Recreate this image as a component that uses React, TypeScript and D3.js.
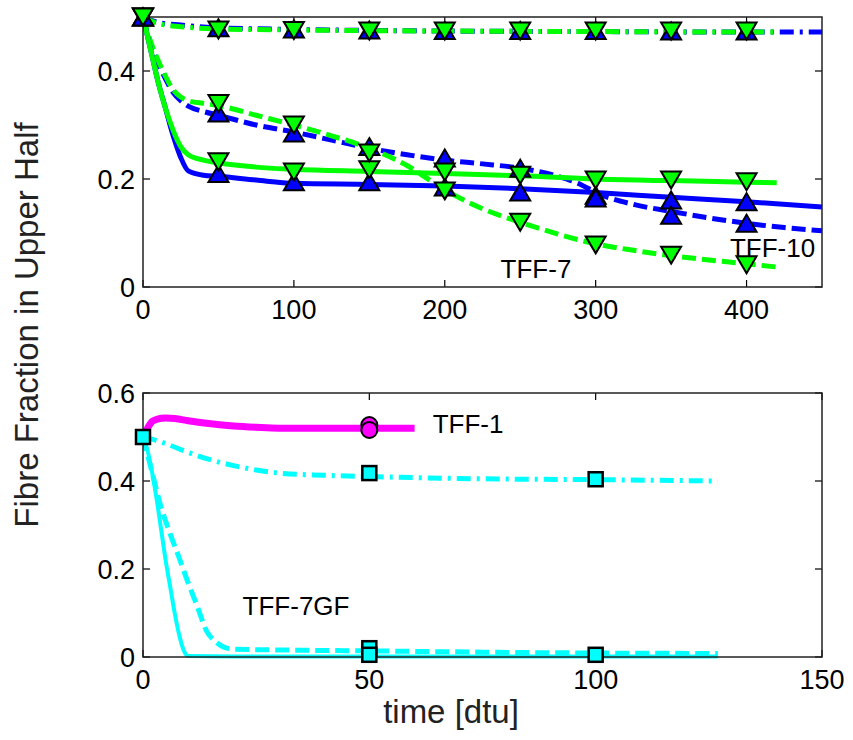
import React, { useEffect, useRef } from "react";
import * as d3 from "d3";

// ---- top panel: TFF-10 (blue) and TFF-7 (green) ----
const markTimes = [0, 50, 100, 150, 200, 250, 300, 350, 400];

const blueDashDotT = [0, 10, 25, 50, 100, 200, 300, 400, 450];
const blueDashDotV = [0.5, 0.49, 0.485, 0.48, 0.477, 0.474, 0.473, 0.472, 0.472];
const greenDashDotT = [0, 10, 25, 50, 100, 200, 300, 400, 420];
const greenDashDotV = [0.5, 0.488, 0.482, 0.478, 0.476, 0.474, 0.473, 0.472, 0.472];

const blueSolidT = [0, 5, 10, 15, 20, 25, 30, 40, 50, 75, 100, 150, 200, 250, 300, 350, 400, 450];
const blueSolidV = [0.5, 0.44, 0.38, 0.33, 0.28, 0.24, 0.215, 0.207, 0.205, 0.198, 0.192, 0.19, 0.187, 0.182, 0.175, 0.166, 0.158, 0.148];
const greenSolidT = [0, 5, 10, 15, 20, 25, 30, 40, 50, 75, 100, 150, 200, 250, 300, 350, 400, 420];
const greenSolidV = [0.5, 0.44, 0.38, 0.33, 0.29, 0.26, 0.245, 0.235, 0.23, 0.222, 0.218, 0.214, 0.21, 0.206, 0.2, 0.197, 0.194, 0.193];

const blueDashedT = [0, 5, 10, 15, 20, 25, 30, 40, 50, 75, 100, 125, 150, 175, 200, 225, 250, 275, 290, 300, 325, 350, 375, 400, 425, 450];
const blueDashedV = [0.5, 0.45, 0.415, 0.385, 0.36, 0.345, 0.335, 0.325, 0.318, 0.3, 0.287, 0.272, 0.257, 0.245, 0.235, 0.228, 0.22, 0.205, 0.19, 0.175, 0.153, 0.14, 0.128, 0.118, 0.11, 0.104];
const greenDashedT = [0, 5, 10, 15, 20, 25, 30, 40, 50, 75, 100, 125, 150, 175, 200, 225, 250, 275, 300, 325, 350, 375, 400, 420];
const greenDashedV = [0.5, 0.455, 0.42, 0.39, 0.365, 0.352, 0.345, 0.34, 0.336, 0.318, 0.3, 0.28, 0.257, 0.225, 0.18, 0.145, 0.12, 0.098, 0.08, 0.068, 0.058, 0.05, 0.043, 0.037];

const blueDashDotMarks = [0.5, 0.48, 0.478, 0.476, 0.475, 0.475, 0.475, 0.474, 0.474];
const blueSolidMarks = [0.5, 0.21, 0.195, 0.195, 0.185, 0.176, 0.17, 0.161, 0.158];
const blueDashedMarks = [0.5, 0.322, 0.285, 0.26, 0.239, 0.22, 0.165, 0.133, 0.118];
const greenDashDotMarks = [0.5, 0.476, 0.475, 0.474, 0.474, 0.474, 0.474, 0.474, 0.474];
const greenSolidMarks = [0.5, 0.232, 0.213, 0.217, 0.213, 0.207, 0.198, 0.198, 0.195];
const greenDashedMarks = [0.5, 0.34, 0.3, 0.248, 0.178, 0.12, 0.078, 0.059, 0.041];

const topXTicks = [0, 100, 200, 300, 400];
const topYTicks = [0, 0.2, 0.4];

// ---- bottom panel: TFF-1 (magenta) and TFF-7GF (cyan) ----
const magentaT = [0, 1, 2, 3, 5, 7, 10, 15, 20, 25, 30, 40, 50, 60];
const magentaV = [0.5, 0.52, 0.535, 0.54, 0.543, 0.542, 0.537, 0.53, 0.525, 0.522, 0.52, 0.52, 0.52, 0.52];
const magentaMarkT = [50, 50];
const magentaMarkV = [0.527, 0.516];

const cyanDashDotT = [0, 2, 5, 10, 15, 20, 25, 30, 40, 50, 75, 100, 127];
const cyanDashDotV = [0.5, 0.495, 0.485, 0.465, 0.448, 0.435, 0.425, 0.418, 0.413, 0.41, 0.405, 0.403, 0.4];
const cyanDashedT = [0, 2, 4, 6, 8, 10, 12, 14, 16, 18, 20, 30, 50, 75, 100, 127];
const cyanDashedV = [0.5, 0.42, 0.34, 0.28, 0.225, 0.168, 0.115, 0.06, 0.035, 0.022, 0.018, 0.016, 0.014, 0.011, 0.009, 0.008];
const cyanSolidT = [0, 1, 2, 3, 4, 5, 6, 7, 8, 9, 10, 20, 50, 100, 127];
const cyanSolidV = [0.5, 0.47, 0.42, 0.36, 0.29, 0.22, 0.16, 0.1, 0.05, 0.015, 0.002, 0.001, 0.001, 0.001, 0.001];
const cyanMarkT = [0, 50, 50, 50, 100, 100];
const cyanMarkV = [0.5, 0.418, 0.02, 0.005, 0.404, 0.005];

const botXTicks = [0, 50, 100, 150];
const botYTicks = [0, 0.2, 0.4, 0.6];

const labelsTop = [
  { text: "TFF-10", t: 389, v: 0.055 },
  { text: "TFF-7", t: 237, v: 0.017 },
];
const labelsBot = [
  { text: "TFF-1", t: 64, v: 0.508 },
  { text: "TFF-7GF", t: 22, v: 0.095 },
];

const FONT = "'Liberation Sans', Arial, Helvetica, sans-serif";
const BLUE = "#0000ff";
const GREEN = "#00ff00";
const CYAN = "#00ffff";
const MAGENTA = "#ff00ff";
const DASH = "14,6";
const DASHDOT = "14,6,3,6";

const zip = (t: number[], v: number[]) => t.map((d, i) => [d, v[i]] as [number, number]);

export default function App() {
  const ref = useRef<SVGSVGElement>(null);

  useEffect(() => {
    const svg = d3.select(ref.current);
    svg.selectAll("*").remove();

    const left = 143, right = 822;

    const drawAxes = (g: any, x: any, y: any, xTicks: number[], yTicks: number[], top: number, bottom: number, yFmt: (d: number) => string) => {
      const tl = 7;
      xTicks.forEach((t) => {
        g.append("line").attr("x1", x(t)).attr("x2", x(t)).attr("y1", bottom).attr("y2", bottom - tl).attr("stroke", "#000").attr("stroke-width", 1.2);
        g.append("line").attr("x1", x(t)).attr("x2", x(t)).attr("y1", top).attr("y2", top + tl).attr("stroke", "#000").attr("stroke-width", 1.2);
        g.append("text").attr("x", x(t)).attr("y", bottom + 32).attr("text-anchor", "middle")
          .attr("font-family", FONT).attr("font-size", 27).text(String(t));
      });
      yTicks.forEach((v) => {
        g.append("line").attr("x1", left).attr("x2", left + tl).attr("y1", y(v)).attr("y2", y(v)).attr("stroke", "#000").attr("stroke-width", 1.2);
        g.append("line").attr("x1", right).attr("x2", right - tl).attr("y1", y(v)).attr("y2", y(v)).attr("stroke", "#000").attr("stroke-width", 1.2);
        g.append("text").attr("x", left - 8).attr("y", y(v) + 10).attr("text-anchor", "end")
          .attr("font-family", FONT).attr("font-size", 27).text(yFmt(v));
      });
      g.append("rect").attr("x", left).attr("y", top).attr("width", right - left).attr("height", bottom - top)
        .attr("fill", "none").attr("stroke", "#222").attr("stroke-width", 1.5);
    };

    const drawLine = (g: any, x: any, y: any, pts: [number, number][], color: string, dash: string | null, w: number) => {
      const line = d3.line<[number, number]>().x((d) => x(d[0])).y((d) => y(d[1])).curve(d3.curveMonotoneX);
      g.append("path").attr("d", line(pts)).attr("fill", "none").attr("stroke", color)
        .attr("stroke-width", w).attr("stroke-dasharray", dash).attr("stroke-linejoin", "round");
    };

    const tri = (up: boolean) => {
      const w = 10, h = 8.5;
      return up ? `M0,${-h}L${w},${h}L${-w},${h}Z` : `M0,${h}L${w},${-h}L${-w},${-h}Z`;
    };

    const drawTris = (g: any, x: any, y: any, vals: number[], up: boolean, color: string) => {
      g.selectAll(null).data(vals).enter().append("path")
        .attr("d", tri(up))
        .attr("transform", (d: number, i: number) => `translate(${x(markTimes[i])},${y(d)})`)
        .attr("fill", color).attr("stroke", "#000").attr("stroke-width", 2).attr("stroke-linejoin", "miter");
    };

    // ---------- top panel ----------
    const xTop = d3.scaleLinear().domain([0, 450]).range([left, right]);
    const yTop = d3.scaleLinear().domain([0, 0.5]).range([287, 17]);
    const gTop = svg.append("g");

    drawLine(gTop, xTop, yTop, zip(blueDashDotT, blueDashDotV), BLUE, DASHDOT, 5);
    drawLine(gTop, xTop, yTop, zip(greenDashDotT, greenDashDotV), GREEN, DASHDOT, 5);
    drawLine(gTop, xTop, yTop, zip(blueDashedT, blueDashedV), BLUE, DASH, 5);
    drawLine(gTop, xTop, yTop, zip(greenDashedT, greenDashedV), GREEN, DASH, 5);
    drawLine(gTop, xTop, yTop, zip(blueSolidT, blueSolidV), BLUE, null, 5);
    drawLine(gTop, xTop, yTop, zip(greenSolidT, greenSolidV), GREEN, null, 5);

    drawAxes(gTop, xTop, yTop, topXTicks, topYTicks, 17, 287, (d) => (d === 0 ? "0" : d3.format(".1f")(d)));

    drawTris(gTop, xTop, yTop, blueDashDotMarks, true, BLUE);
    drawTris(gTop, xTop, yTop, blueSolidMarks, true, BLUE);
    drawTris(gTop, xTop, yTop, blueDashedMarks, true, BLUE);
    drawTris(gTop, xTop, yTop, greenDashDotMarks, false, GREEN);
    drawTris(gTop, xTop, yTop, greenSolidMarks, false, GREEN);
    drawTris(gTop, xTop, yTop, greenDashedMarks, false, GREEN);

    labelsTop.forEach((l) => {
      gTop.append("text").attr("x", xTop(l.t)).attr("y", yTop(l.v)).attr("font-family", FONT)
        .attr("font-size", 26).text(l.text);
    });

    // ---------- bottom panel ----------
    const xBot = d3.scaleLinear().domain([0, 150]).range([left, right]);
    const yBot = d3.scaleLinear().domain([0, 0.6]).range([657, 393]);
    const gBot = svg.append("g");

    drawLine(gBot, xBot, yBot, zip(cyanDashDotT, cyanDashDotV), CYAN, DASHDOT, 5);
    drawLine(gBot, xBot, yBot, zip(cyanDashedT, cyanDashedV), CYAN, DASH, 5);
    drawLine(gBot, xBot, yBot, zip(cyanSolidT, cyanSolidV), CYAN, null, 4);
    drawLine(gBot, xBot, yBot, zip(magentaT, magentaV), MAGENTA, null, 7);

    drawAxes(gBot, xBot, yBot, botXTicks, botYTicks, 393, 657, (d) => (d === 0 ? "0" : d3.format(".1f")(d)));

    gBot.selectAll(null).data(magentaMarkV).enter().append("circle")
      .attr("cx", (d: number, i: number) => xBot(magentaMarkT[i])).attr("cy", (d: number) => yBot(d))
      .attr("r", 8).attr("fill", MAGENTA).attr("stroke", "#000").attr("stroke-width", 2);

    gBot.selectAll(null).data(cyanMarkV).enter().append("rect")
      .attr("x", (d: number, i: number) => xBot(cyanMarkT[i]) - 7).attr("y", (d: number) => yBot(d) - 7)
      .attr("width", 14).attr("height", 14)
      .attr("fill", CYAN).attr("stroke", "#000").attr("stroke-width", 2.5);

    labelsBot.forEach((l) => {
      gBot.append("text").attr("x", xBot(l.t)).attr("y", yBot(l.v)).attr("font-family", FONT)
        .attr("font-size", 26).text(l.text);
    });

    // axis titles
    svg.append("text").attr("x", 451).attr("y", 723).attr("text-anchor", "middle")
      .attr("font-family", FONT).attr("font-size", 33).attr("fill", "#222").text("time [dtu]");
    svg.append("text").attr("transform", "translate(38,325) rotate(-90)").attr("text-anchor", "middle")
      .attr("font-family", FONT).attr("font-size", 33).attr("fill", "#222").text("Fibre Fraction in Upper Half");
  }, []);

  return (
    <svg ref={ref} width={853} height={740} style={{ position: "absolute", left: 0, top: 0, background: "#fff" }} />
  );
}
